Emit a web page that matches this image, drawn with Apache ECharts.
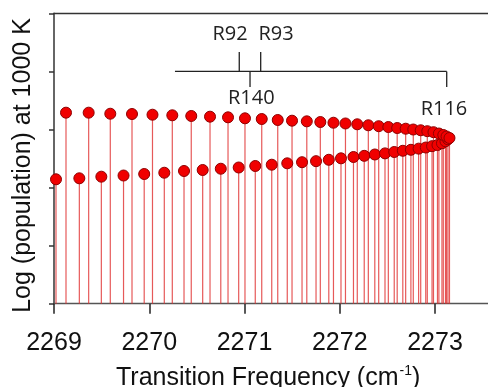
<!DOCTYPE html>
<html>
<head>
<meta charset="utf-8">
<script src="https://cdn.jsdelivr.net/npm/echarts@6/dist/echarts.min.js"></script>
<style>
html,body{margin:0;padding:0;background:#fff;}
#chart{width:488px;height:387px;}
</style>
</head>
<body>
<div id="chart"></div>
<script>
// Upper branch: [frequency cm^-1, log population]
var upperFreq = [2269.126, 2269.364, 2269.591, 2269.819, 2270.034, 2270.242, 2270.441, 2270.638, 2270.827, 2271.005,
  2271.181, 2271.349, 2271.499, 2271.654, 2271.796, 2271.934, 2272.060, 2272.184, 2272.300, 2272.409,
  2272.510, 2272.603, 2272.692, 2272.772, 2272.850, 2272.919, 2272.984, 2273.041, 2273.087, 2273.121, 2273.152];
var upperPop = [3.289, 3.289, 3.271, 3.266, 3.254, 3.244, 3.232, 3.220, 3.209, 3.192,
  3.180, 3.163, 3.151, 3.140, 3.128, 3.116, 3.103, 3.089, 3.072, 3.056,
  3.042, 3.025, 3.013, 2.999, 2.986, 2.970, 2.953, 2.930, 2.905, 2.879, 2.853];
// Lower branch
var lowerFreq = [2269.021, 2269.266, 2269.497, 2269.730, 2269.947, 2270.158, 2270.365, 2270.561, 2270.751, 2270.939,
  2271.113, 2271.286, 2271.449, 2271.604, 2271.751, 2271.885, 2272.013, 2272.144, 2272.257, 2272.368,
  2272.475, 2272.572, 2272.662, 2272.747, 2272.828, 2272.903, 2272.969, 2273.026, 2273.073, 2273.110, 2273.136];
var lowerPop = [2.142, 2.159, 2.187, 2.207, 2.233, 2.255, 2.285, 2.302, 2.324, 2.345,
  2.371, 2.393, 2.417, 2.436, 2.454, 2.478, 2.503, 2.526, 2.546, 2.569,
  2.588, 2.612, 2.633, 2.650, 2.670, 2.689, 2.712, 2.732, 2.762, 2.796, 2.831];
var xTickLabels = ['2269', '2270', '2271', '2272', '2273'];
// Annotation bracket (data units) and labels
var bracketSegments = [
  [[2270.270, 4.0], [2273.123, 4.0]],
  [[2273.123, 4.0], [2273.123, 3.731]],
  [[2270.945, 4.0], [2270.945, 4.334]],
  [[2271.170, 4.0], [2271.170, 4.334]],
  [[2271.058, 4.0], [2271.058, 3.731]]
];
var annoLabels = ['R92', 'R93', 'R140', 'R116'];
var annoLabelPos = [[2270.848, 4.638], [2271.331, 4.638], [2271.071, 3.542], [2273.094, 3.340]];

function pairs(xs, ys) { return xs.map(function (x, i) { return [x, ys[i]]; }); }
var upper = pairs(upperFreq, upperPop);
var lower = pairs(lowerFreq, lowerPop);
var allPts = lower.concat(upper).sort(function (a, b) { return a[0] - b[0]; });

var chart = echarts.init(document.getElementById('chart'), null, {renderer: 'canvas'});
var axisFont = 'Liberation Sans, Arial, sans-serif';
var annoFont = 'Open Sans, Noto Sans, sans-serif';

var option = {
  animation: false,
  backgroundColor: '#fff',
  grid: {left: 54, top: 13.3, height: 290.4, width: 476.25, containLabel: false, outerBoundsMode: 'none'},
  xAxis: [{
    type: 'value', min: 2269, max: 2274, interval: 1,
    position: 'bottom',
    axisLine: {show: true, onZero: false, lineStyle: {color: '#555', width: 1.3}},
    axisTick: {show: true, length: 10, lineStyle: {color: '#222', width: 1.5}},
    axisLabel: {
      show: true, margin: 27, fontSize: 25, color: '#111', fontFamily: axisFont,
      formatter: function (v) { var i = Math.round(v - 2269); return xTickLabels[i] || ''; }
    },
    splitLine: {show: false},
    name: '{a|Transition Frequency (cm}{s|-1}{a|)}',
    nameLocation: 'middle', nameGap: 60,
    nameTextStyle: {
      padding: [0, 48, 0, 0],
      rich: {
        a: {fontSize: 25, color: '#111', fontFamily: axisFont, lineHeight: 28},
        s: {fontSize: 14, color: '#111', fontFamily: axisFont, verticalAlign: 'top', lineHeight: 28, padding: [0, 0, 0, 1]}
      }
    }
  }, {
    type: 'value', min: 2269, max: 2274, interval: 1,
    position: 'top',
    axisLine: {show: true, onZero: false, lineStyle: {color: '#333', width: 1.3}},
    axisTick: {show: false}, axisLabel: {show: false}, splitLine: {show: false}
  }],
  yAxis: {
    type: 'value', min: 0, max: 5, interval: 1,
    axisLine: {show: true, lineStyle: {color: '#333', width: 1.5}},
    axisTick: {show: true, length: 5, lineStyle: {color: '#333', width: 1.5}},
    axisLabel: {show: false},
    splitLine: {show: false},
    name: 'Log (population) at 1000 K',
    nameLocation: 'middle', nameGap: 18,
    nameTextStyle: {fontSize: 25, color: '#111', fontFamily: axisFont, padding: [0, 0, 0, -14]}
  },
  series: [
    {
      type: 'custom', name: 'stems', z: 2,
      data: allPts,
      renderItem: function (params, api) {
        var top = api.coord([api.value(0), api.value(1)]);
        var bot = api.coord([api.value(0), 0]);
        return {type: 'line', shape: {x1: top[0], y1: top[1], x2: bot[0], y2: bot[1]},
          style: {stroke: '#e03030', lineWidth: 1.2, opacity: 0.8}};
      }
    },
    {
      type: 'scatter', name: 'lower', z: 3, data: lower, symbol: 'circle', symbolSize: 11,
      itemStyle: {color: '#f00000', borderColor: '#8e0000', borderWidth: 1, opacity: 1}
    },
    {
      type: 'scatter', name: 'upper', z: 4, data: upper, symbol: 'circle', symbolSize: 11,
      itemStyle: {color: '#f00000', borderColor: '#8e0000', borderWidth: 1, opacity: 1}
    },
    {
      type: 'custom', name: 'bracket', z: 5,
      data: bracketSegments.map(function (s) { return [s[0][0], s[0][1], s[1][0], s[1][1]]; }),
      renderItem: function (params, api) {
        var a = api.coord([api.value(0), api.value(1)]);
        var b = api.coord([api.value(2), api.value(3)]);
        return {type: 'line', shape: {x1: a[0], y1: a[1], x2: b[0], y2: b[1]},
          style: {stroke: '#222', lineWidth: 1.3}};
      }
    },
    {
      type: 'custom', name: 'labels', z: 6,
      data: annoLabelPos.map(function (p, i) { return [p[0], p[1], i]; }),
      renderItem: function (params, api) {
        var c = api.coord([api.value(0), api.value(1)]);
        return {type: 'text', x: c[0], y: c[1],
          style: {text: annoLabels[api.value(2)], fill: '#222', font: '20px ' + annoFont,
            align: 'center', verticalAlign: 'middle'}};
      }
    }
  ]
};
chart.setOption(option);
</script>
</body>
</html>
